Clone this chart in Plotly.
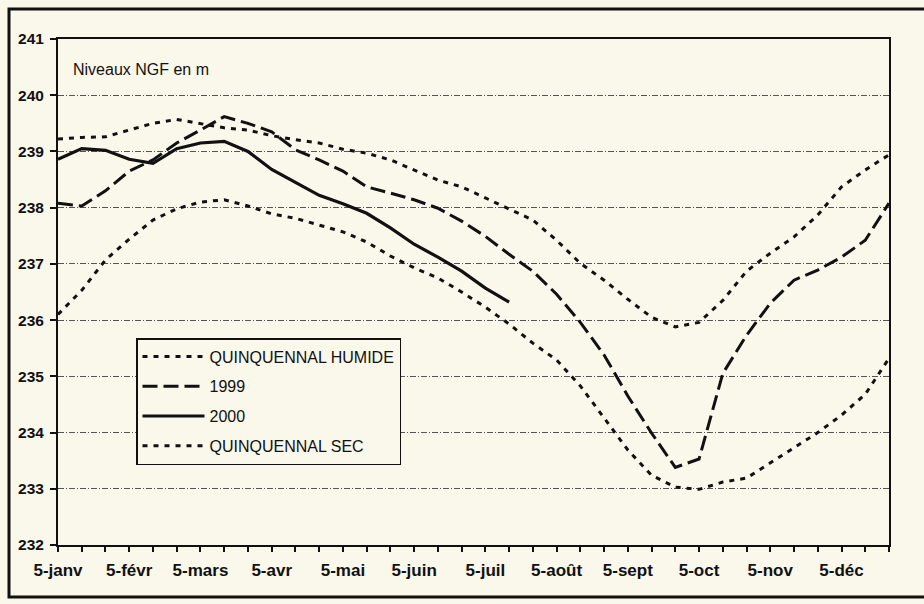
import plotly.graph_objects as go

months = ["janv", "févr", "mars", "avr", "mai", "juin", "juil", "août", "sept", "oct", "nov", "déc"]
days = [5, 15, 25]
categories = [f"{d}-{m}" for m in months for d in days]
tick_labels = [c if c.startswith("5-") else "" for c in categories]

humide = [239.22, 239.25, 239.26, 239.38, 239.50, 239.57, 239.50, 239.42, 239.38, 239.28, 239.21, 239.15,
          239.04, 238.97, 238.85, 238.67, 238.49, 238.37, 238.17, 237.97, 237.78, 237.42, 237.01, 236.71,
          236.37, 236.05, 235.88, 235.96, 236.35, 236.87, 237.19, 237.48, 237.87, 238.37, 238.67, 238.94]
y1999 = [238.08, 238.03, 238.30, 238.65, 238.85, 239.15, 239.38, 239.62, 239.50, 239.35, 239.03, 238.85,
         238.65, 238.37, 238.26, 238.14, 237.99, 237.76, 237.49, 237.17, 236.87, 236.46, 235.96, 235.38,
         234.65, 233.99, 233.38, 233.53, 235.05, 235.73, 236.30, 236.71, 236.89, 237.12, 237.42, 238.08]
y2000 = [238.86, 239.05, 239.02, 238.86, 238.79, 239.05, 239.15, 239.18, 239.00, 238.68, 238.45, 238.22,
         238.07, 237.90, 237.64, 237.35, 237.12, 236.87, 236.57, 236.32]
sec = [236.10, 236.53, 237.07, 237.44, 237.78, 237.98, 238.10, 238.14, 238.03, 237.89, 237.81, 237.69,
       237.57, 237.39, 237.14, 236.93, 236.75, 236.50, 236.23, 235.93, 235.59, 235.29, 234.83, 234.26,
       233.69, 233.24, 233.03, 232.99, 233.12, 233.19, 233.46, 233.74, 234.00, 234.31, 234.68, 235.32]

INK = "#111111"
BG = "#FAF7EB"
FONT = "Liberation Sans"

fig = go.Figure()
series = [
    ("QUINQUENNAL HUMIDE", humide, "5px,6px", 3),
    ("1999", y1999, "15px,6px", 3),
    ("2000", y2000, "solid", 3.2),
    ("QUINQUENNAL SEC", sec, "5px,6px", 3),
]
for name, vals, dash, w in series:
    fig.add_trace(go.Scatter(
        x=categories[:len(vals)], y=vals, mode="lines", name=name,
        legendgroup=name,
        line=dict(color=INK, width=w, dash=dash),
    ))

fig.update_layout(
    width=924, height=604,
    margin=dict(l=58, r=35, t=39, b=59, autoexpand=False),
    paper_bgcolor=BG, plot_bgcolor=BG,
    font=dict(family=FONT, color=INK),
    showlegend=True,
    legend=dict(
        x=(136 - 58) / 831, y=(545 - 338) / 506, xanchor="left", yanchor="top",
        bgcolor=BG, bordercolor=INK, borderwidth=1.5,
        font=dict(family=FONT, size=16, color=INK),
        traceorder="grouped", tracegroupgap=6, itemwidth=62,
    ),
    xaxis=dict(
        type="category", categoryorder="array", categoryarray=categories,
        range=[0, len(categories) - 1], automargin=False,
        tickmode="array", tickvals=categories, ticktext=tick_labels,
        ticks="outside", ticklen=5, tickwidth=1.5, tickcolor=INK,
        ticklabelstandoff=4,
        tickfont=dict(family=FONT, size=17, color=INK, weight="bold"),
        showgrid=False, showline=True, linecolor=INK, linewidth=2, mirror=True,
        tickangle=0, zeroline=False,
    ),
    yaxis=dict(
        range=[232, 241], dtick=1, tick0=232, automargin=False,
        ticks="outside", ticklen=6, tickwidth=1.5, tickcolor=INK,
        ticklabelstandoff=3,
        tickfont=dict(family=FONT, size=15.5, color=INK, weight="bold"),
        showgrid=True, gridcolor="#555555", gridwidth=1, griddash="6px,2px,1px,2px",
        showline=True, linecolor=INK, linewidth=2, mirror=True, zeroline=False,
    ),
    annotations=[dict(
        text="Niveaux NGF en m", xref="paper", yref="paper",
        x=(71 - 58) / 831, y=(545 - 69) / 506, xanchor="left", yanchor="middle",
        showarrow=False, font=dict(family=FONT, size=16, color=INK),
    )],
    shapes=[dict(
        type="rect", xref="paper", yref="paper",
        x0=(9 - 58) / 831, x1=(930 - 58) / 831,
        y0=(545 - 597) / 506, y1=(545 - 9) / 506,
        line=dict(color=INK, width=3), layer="below",
    )],
)

fig.write_html(
    "out.html",
    config={"displayModeBar": False},
    post_script="document.body.style.margin='0';document.body.style.background='#FAF7EB';",
)
